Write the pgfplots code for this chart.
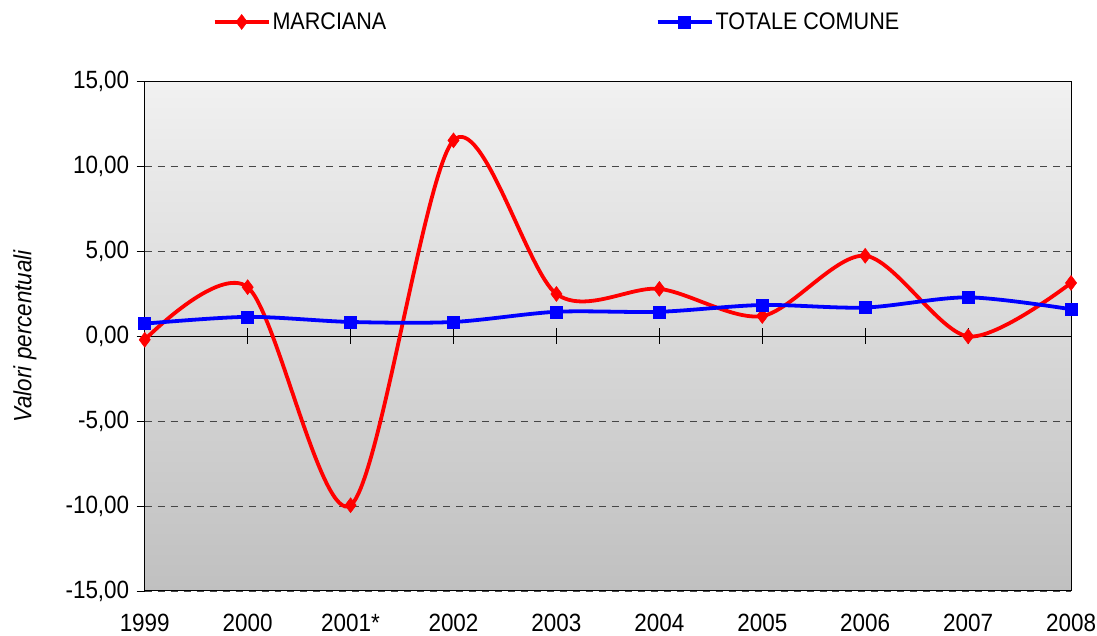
\documentclass[border=0pt]{standalone}
\usepackage{pgfplots}
\pgfplotsset{compat=1.18}
\usepackage{fontspec}
\setmainfont{Liberation Sans}[FakeStretch=0.9]
\definecolor{bgtop}{RGB}{241,241,241}
\definecolor{bgbot}{RGB}{192,192,192}
\definecolor{gridc}{RGB}{70,70,70}
\newcommand{\ff}{\fontsize{25}{29}\selectfont}
\newcommand{\lf}{\fontsize{24}{28}\selectfont}
\pgfplotstableread{
x m t
0 -0.20 0.75
1 2.90 1.15
2 -9.95 0.85
3 11.55 0.85
4 2.50 1.45
5 2.80 1.45
6 1.20 1.85
7 4.75 1.70
8 0.00 2.30
9 3.15 1.60
}\datatab
\begin{document}
\begin{tikzpicture}
\begin{axis}[
  at={(0,0)}, anchor=south west,
  scale only axis, width=928pt, height=510pt,
  xmin=0, xmax=9, ymin=-15, ymax=15,
  xtick={0,...,9},
  xticklabels={1999,2000,2001*,2002,2003,2004,2005,2006,2007,2008},
  x tick style={draw=none},
  xticklabel style={font=\ff, yshift=-12pt},
  ytick={-15,-10,-5,0,5,10,15},
  ytick pos=left,
  y tick style={black, line width=0.8pt},
  tick align=outside, major tick length=8pt,
  yticklabel style={font=\ff, xshift=-4pt, /pgf/number format/.cd, fixed, fixed zerofill, precision=2, use comma, assume math mode=true},
  ymajorgrids, major grid style={dashed, gridc, line width=0.8pt, dash pattern=on 7pt off 6pt},
  axis line style={black, line width=1pt},
  axis background/.style={top color=bgtop, bottom color=bgbot},
  ylabel={\itshape Valori percentuali},
  every axis y label/.style={font=\ff, at={(axis description cs:0,0.5)}, xshift=-120pt, rotate=90, anchor=center},
  legend style={draw=none, fill=none, font=\lf, inner sep=0pt, at={(axis description cs:0.0733,1.1176)}, anchor=west,
    legend columns=2, /tikz/every even column/.append style={column sep=268pt}},
  legend image code/.code={\draw[mark repeat=2, mark phase=2] plot coordinates {(0pt,0pt) (27pt,0pt) (54pt,0pt)};},
  clip=false,
]
\draw[black, line width=1pt] (axis cs:0,0) -- (axis cs:9,0);
\pgfplotsinvokeforeach{1,...,8}{\draw[black, line width=0.8pt] ([yshift=8pt]axis cs:#1,0) -- ([yshift=-8pt]axis cs:#1,0);}
\addplot[red, line width=3.8pt, smooth, tension=0.5, mark=diamond*, mark size=7.5pt, mark options={line width=0.5pt}] table[x=x,y=m]{\datatab};
\addlegendentry{MARCIANA}
\addplot[blue, line width=3.8pt, smooth, tension=0.5, mark=square*, mark size=6pt, mark options={line width=0.5pt}] table[x=x,y=t]{\datatab};
\addlegendentry{TOTALE COMUNE}
\end{axis}
\pgfresetboundingbox
\useasboundingbox (-145pt,-45pt) rectangle (954pt,592pt);
\end{tikzpicture}
\end{document}
